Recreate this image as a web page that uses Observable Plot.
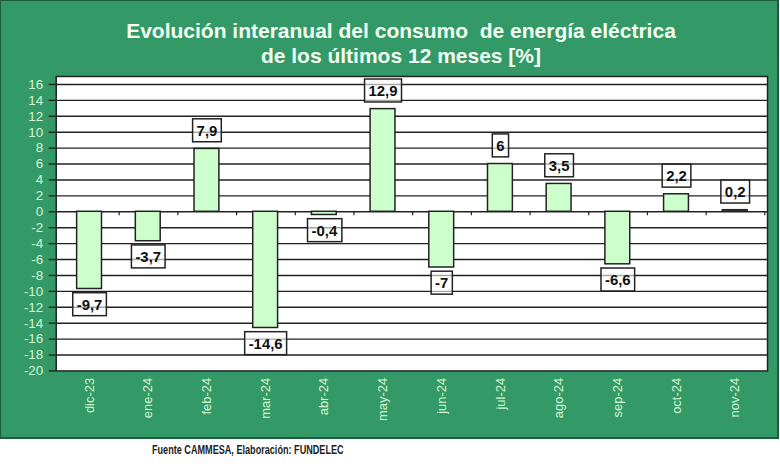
<!DOCTYPE html>
<html>
<head>
<meta charset="utf-8">
<script src="https://cdn.jsdelivr.net/npm/d3@7"></script>
<script src="https://cdn.jsdelivr.net/npm/@observablehq/plot@0.6"></script>
<style>
  html, body { margin: 0; padding: 0; background: #fff; }
  body { width: 780px; height: 470px; overflow: hidden; font-family: "Liberation Sans", Arial, sans-serif; }
  #panel { position: absolute; left: 0; top: 0; width: 776px; height: 436px; background: #339966; border: 1px solid #1e5c3d; border-right-width: 2px; border-bottom-width: 2px; }
  #title { position: absolute; left: 0; top: 17px; width: 800px; text-align: center; color: #f2fff2; font-weight: bold; font-size: 21px; line-height: 25px; }
  #chart { position: absolute; left: 0; top: 72px; }
  #footer { position: absolute; left: 152px; top: 442px; font-family: "Liberation Sans", Arial, sans-serif; font-weight: bold; font-size: 13px; color: #222; transform: scaleX(0.7); transform-origin: 0 0; white-space: nowrap; }
</style>
</head>
<body>
<div id="panel">
  <div id="title">Evolución interanual del consumo&nbsp; de energía eléctrica<br>de los últimos 12 meses [%]</div>
  <div id="chart"></div>
</div>
<div id="footer">Fuente CAMMESA, Elaboración: FUNDELEC</div>
<script>
const months = ["dic-23","ene-24","feb-24","mar-24","abr-24","may-24","jun-24","jul-24","ago-24","sep-24","oct-24","nov-24"];
const values = [-9.7, -3.7, 7.9, -14.6, -0.4, 12.9, -7, 6, 3.5, -6.6, 2.2, 0.2];
const yTicks = [-20,-18,-16,-14,-12,-10,-8,-6,-4,-2,0,2,4,6,8,10,12,14,16];

const data = months.map((m, i) => ({month: m, value: values[i], label: String(values[i]).replace(".", ",")}));
const W = 780, ML = 55, MR = 10;
const halfStep = (W - ML - MR) / months.length / 2;

const chart = Plot.plot({
  width: W,
  height: 366,
  marginLeft: ML,
  marginRight: MR,
  marginTop: 3,
  marginBottom: 67,
  style: {background: "transparent", fontFamily: "Liberation Sans, Arial, sans-serif"},
  x: {type: "band", domain: months, paddingInner: 0.58, paddingOuter: 0.29, align: 0.5, label: null},
  y: {domain: [-20, 17], label: null},
  marks: [
    Plot.frame({fill: "white"}),
    Plot.ruleY(yTicks.filter(d => d > -20), {stroke: "#222", strokeWidth: 1.4}),
    Plot.ruleX(months, {x: d => d, dx: halfStep, y1: 0, y2: -0.5, stroke: "#222", strokeWidth: 1.2}),
    Plot.barY(data, {x: "month", y: "value", fill: "#ccffcc", stroke: "#222", strokeWidth: 1.5}),
    Plot.text(data.filter(d => d.value >= 0), {x: "month", y: "value", text: "label", dy: -18, fontSize: 15, fontWeight: "bold", fill: "#111", className: "vlabel"}),
    Plot.text(data.filter(d => d.value < 0), {x: "month", y: "value", text: "label", dy: 16, fontSize: 15, fontWeight: "bold", fill: "#111", className: "vlabel"}),
    Plot.frame({stroke: "#222", strokeWidth: 1.5}),
    Plot.axisY({ticks: yTicks, tickSize: 7, text: null, stroke: "#222", strokeWidth: 1.4, label: null}),
    Plot.axisY({ticks: yTicks, tickSize: 7, tickPadding: 6, tickFormat: d => String(d), fontSize: 13.5, fill: "#d2f5d2", stroke: "none", label: null}),
    Plot.axisX({tickSize: 0, tickRotate: -90, tickPadding: 7, fontSize: 13, fill: "#d2f5d2", label: null})
  ]
});
document.getElementById("chart").appendChild(chart);

// draw boxes behind value labels
chart.querySelectorAll("g.vlabel text").forEach(t => {
  const b = t.getBBox();
  const r = document.createElementNS("http://www.w3.org/2000/svg", "rect");
  r.setAttribute("x", b.x - 4);
  r.setAttribute("y", b.y - 3);
  r.setAttribute("width", b.width + 8);
  r.setAttribute("height", b.height + 6);
  r.setAttribute("fill", "white");
  r.setAttribute("fill-opacity", "0.6");
  r.setAttribute("stroke", "#222");
  r.setAttribute("stroke-width", "1.5");
  const tr = t.getAttribute("transform");
  if (tr) r.setAttribute("transform", tr);
  t.parentNode.insertBefore(r, t);
});
</script>
</body>
</html>
